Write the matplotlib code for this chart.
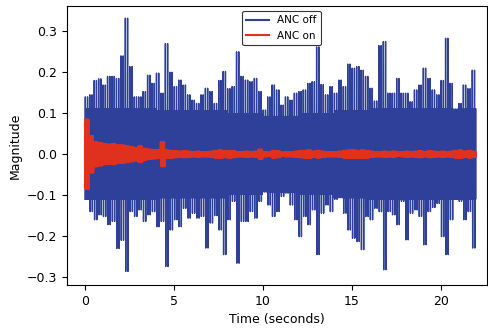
import numpy as np
import matplotlib.pyplot as plt

# envelope of the recording, every 0.25 s
step = 0.25

# ANC off: upper and lower peaks in each 0.25 s bin
off_up = [0.14, 0.145, 0.18, 0.184, 0.169, 0.19, 0.19, 0.185,
          0.24, 0.332, 0.214, 0.14, 0.14, 0.153, 0.193, 0.173,
          0.198, 0.149, 0.27, 0.2, 0.165, 0.181, 0.169, 0.145,
          0.132, 0.124, 0.145, 0.161, 0.153, 0.124, 0.18, 0.202,
          0.16, 0.165, 0.25, 0.19, 0.181, 0.177, 0.185, 0.153,
          0.108, 0.14, 0.169, 0.157, 0.12, 0.14, 0.132, 0.149,
          0.153, 0.157, 0.173, 0.177, 0.262, 0.17, 0.145, 0.165,
          0.149, 0.181, 0.165, 0.22, 0.21, 0.214, 0.205, 0.19,
          0.161, 0.13, 0.265, 0.275, 0.149, 0.149, 0.185, 0.149,
          0.149, 0.128, 0.157, 0.169, 0.21, 0.185, 0.157, 0.145,
          0.18, 0.283, 0.173, 0.108, 0.124, 0.169, 0.16, 0.205]
off_lo = [-0.11, -0.14, -0.16, -0.148, -0.152, -0.172, -0.164, -0.23,
          -0.21, -0.286, -0.14, -0.152, -0.136, -0.164, -0.148, -0.14,
          -0.177, -0.164, -0.274, -0.185, -0.16, -0.177, -0.132, -0.156,
          -0.144, -0.156, -0.152, -0.229, -0.168, -0.15, -0.185, -0.245,
          -0.16, -0.115, -0.266, -0.164, -0.164, -0.14, -0.156, -0.115,
          -0.079, -0.124, -0.152, -0.14, -0.103, -0.095, -0.124, -0.16,
          -0.201, -0.152, -0.172, -0.136, -0.245, -0.144, -0.124, -0.14,
          -0.11, -0.099, -0.144, -0.185, -0.205, -0.213, -0.233, -0.152,
          -0.16, -0.132, -0.14, -0.282, -0.14, -0.148, -0.172, -0.115,
          -0.209, -0.144, -0.136, -0.152, -0.221, -0.14, -0.13, -0.12,
          -0.201, -0.245, -0.16, -0.103, -0.115, -0.16, -0.14, -0.229]
# level of the solid core, every 2 s
off_core = [0.11, 0.11, 0.106, 0.106, 0.098, 0.092, 0.098, 0.106, 0.11, 0.11, 0.11]

# ANC on: amplitude in each 0.25 s bin
on_amp = [0.085, 0.045, 0.03, 0.028, 0.025, 0.024, 0.025, 0.022,
          0.022, 0.02, 0.018, 0.016, 0.02, 0.014, 0.012, 0.011,
          0.01, 0.03, 0.01, 0.009, 0.008, 0.007, 0.008, 0.007,
          0.006, 0.007, 0.006, 0.006, 0.007, 0.009, 0.01, 0.008,
          0.009, 0.008, 0.006, 0.006, 0.007, 0.006, 0.007, 0.012,
          0.006, 0.005, 0.009, 0.008, 0.005, 0.006, 0.006, 0.007,
          0.008, 0.009, 0.01, 0.007, 0.009, 0.007, 0.006, 0.006,
          0.006, 0.007, 0.009, 0.01, 0.01, 0.009, 0.01, 0.009,
          0.007, 0.006, 0.006, 0.007, 0.006, 0.007, 0.005, 0.006,
          0.007, 0.006, 0.007, 0.008, 0.006, 0.008, 0.007, 0.006,
          0.007, 0.006, 0.007, 0.009, 0.01, 0.007, 0.009, 0.007]

t = np.arange(len(off_up)) * step
n_sub = 12
sub = np.arange(n_sub) * step / n_sub
xs = (t[:, None] + sub[None, :]).ravel()

# each bin: two swings out to the peaks, with core swings in between
core = np.repeat(off_core, 8)[:len(off_up)]
y_off = np.column_stack([-core, off_up, off_lo, core, -core, core,
                         -core, off_up, off_lo, core, -core, core]).ravel()
amp = np.array(on_amp)
y_on = np.column_stack([amp, -amp] * (n_sub // 2)).ravel()

fig = plt.figure(figsize=(4.89, 3.29), dpi=100)
ax = fig.add_axes([0.137, 0.134, 0.859, 0.848])

ax.plot(xs, y_off, color='#2e409a', lw=1.0, label='ANC off')
ax.plot(xs, y_on, color='#e0301e', lw=1.2, label='ANC on')

ax.set_xlim(-1.01, 22.6)
ax.set_ylim(-0.319, 0.362)
ax.set_xticks([0, 5, 10, 15, 20])
ax.set_yticks([-0.3, -0.2, -0.1, 0.0, 0.1, 0.2, 0.3])
ax.tick_params(labelsize=9)
ax.set_xlabel('Time (seconds)', fontsize=9)
ax.set_ylabel('Magnitude', fontsize=9)

leg = ax.legend(loc='upper center', bbox_to_anchor=(0.51, 1.0), fontsize=7.5,
                framealpha=1, edgecolor='0.2', handlelength=2.2)
leg.get_frame().set_linewidth(0.8)
for line in leg.get_lines():
    line.set_linewidth(1.5)

fig.savefig('out.png', dpi=100)
